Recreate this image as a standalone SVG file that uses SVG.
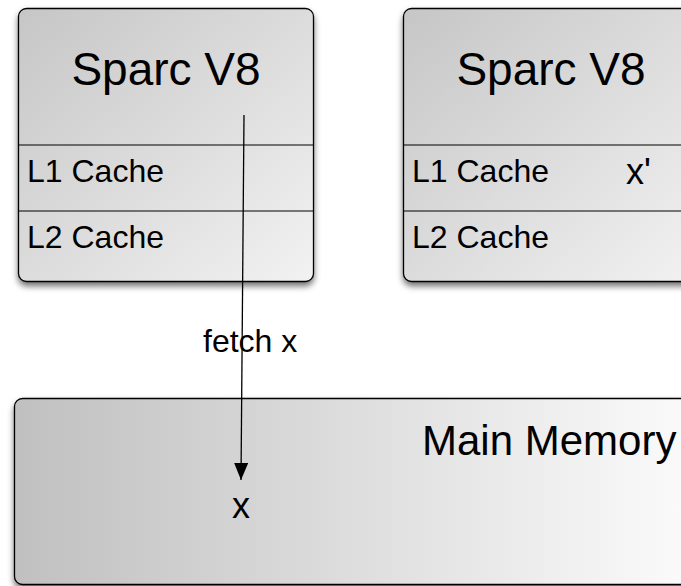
<svg xmlns="http://www.w3.org/2000/svg" width="681" height="586" viewBox="0 0 681 586">
<style>
.box{stroke:#000;stroke-width:1.3;filter:url(#sh)}
.div{stroke:#000;stroke-width:1.2}
text{font-family:"Liberation Sans",Arial,sans-serif;fill:#000}
.t{font-size:46px}
.c{font-size:32px}
</style>
<defs>
<linearGradient id="gcpu" x1="0" y1="0" x2="1" y2="1">
<stop offset="0" stop-color="#c6c6c6"/>
<stop offset="1" stop-color="#f2f2f2"/>
</linearGradient>
<linearGradient id="gmem" x1="0" y1="0" x2="1" y2="0">
<stop offset="0" stop-color="#c0c0c0"/>
<stop offset="1" stop-color="#fcfcfc"/>
</linearGradient>
<filter id="sh" x="-10%" y="-10%" width="130%" height="130%">
<feDropShadow dx="0" dy="4" stdDeviation="3" flood-color="#000" flood-opacity="0.55"/>
</filter>
<marker id="ah" markerWidth="17" markerHeight="14" refX="17" refY="7" orient="auto" markerUnits="userSpaceOnUse">
<path d="M0,0 L17,7 L0,14 z" fill="#000"/>
</marker>
</defs>
<g id="cpu1">
<rect class="box" x="18.5" y="8.5" width="295" height="273" rx="8" fill="url(#gcpu)"/>
<line class="div" x1="18.5" y1="145" x2="313.5" y2="145"/>
<line class="div" x1="18.5" y1="211" x2="313.5" y2="211"/>
<text class="t" x="166" y="85" text-anchor="middle">Sparc V8</text>
<text class="c" x="27" y="182">L1 Cache</text>
<text class="c" x="27" y="248">L2 Cache</text>
</g>
<g id="cpu2">
<rect class="box" x="403.5" y="8.5" width="295" height="273" rx="8" fill="url(#gcpu)"/>
<line class="div" x1="403.5" y1="145" x2="681" y2="145"/>
<line class="div" x1="403.5" y1="211" x2="681" y2="211"/>
<text class="t" x="551" y="85" text-anchor="middle">Sparc V8</text>
<text class="c" x="412" y="182">L1 Cache</text>
<text class="c" x="412" y="248">L2 Cache</text>
<text x="626" y="184" style="font-size:36px">x'</text>
</g>
<g id="memory">
<rect class="box" x="14.5" y="398.5" width="690" height="186" rx="8" fill="url(#gmem)"/>
<text x="422" y="455" style="font-size:42px">Main Memory</text>
<text x="232" y="518" style="font-size:36px">x</text>
</g>
<g id="connectors">
<line x1="244" y1="115" x2="241" y2="480" stroke="#000" stroke-width="1.3" marker-end="url(#ah)"/>
<text class="c" x="203" y="352">fetch x</text>
</g>
</svg>
